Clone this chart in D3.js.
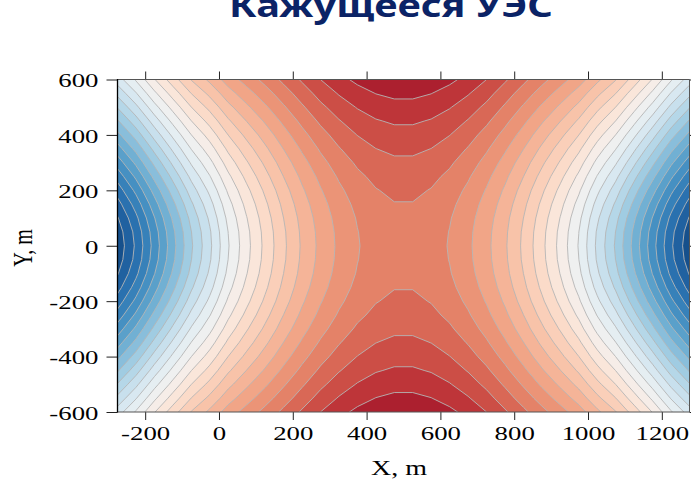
<!DOCTYPE html>
<html><head><meta charset="utf-8">
<script src="https://cdn.jsdelivr.net/npm/d3@7"></script>
<style>body{margin:0;background:#fff}svg{display:block}</style>
</head><body>
<svg id="chart" width="691" height="482"></svg>
<script>
const titleText = "Кажущееся УЭС";
const xLabelText = "X, m";
const yLabelText = "Y, m";
const xTicks = [-200, 0, 200, 400, 600, 800, 1000, 1200];
const yTicks = [-600, -400, -200, 0, 200, 400, 600];
const levels = [1,2,3,4,5,6,7,8,9,10,11,12,13,14,15,16,17,18,19,20,21,22,23,24,25,26];
const gridX = [-275,-225,-175,-125,-75,-25,25,75,125,175,225,275,325,375,425,475,525,575,625,675,725,775,825,875,925,975,1025,1075,1125,1175,1225,1275];
const gridY = [600,550,500,450,400,350,300,250,200,150,100,50,0,-50,-100,-150,-200,-250,-300,-350,-400,-450,-500,-550,-600];
const values = [
[11.5,13.12,14.94,16.54,18.06,19.23,20.47,21.42,22.32,23.24,24.14,25,25.7,26.23,26.62,26.83,26.83,26.62,26.23,25.7,25,24.14,23.24,22.32,21.42,20.47,19.23,18.06,16.54,14.94,13.12,11.5],
[10.28,11.92,13.78,15.44,17.02,18.25,19.58,20.6,21.57,22.54,23.48,24.37,25.08,25.63,26.02,26.23,26.23,26.02,25.63,25.08,24.37,23.48,22.54,21.57,20.6,19.58,18.25,17.02,15.44,13.78,11.92,10.28],
[9.07,10.74,12.63,14.34,15.99,17.29,18.7,19.8,20.83,21.87,22.85,23.76,24.49,25.06,25.46,25.66,25.66,25.46,25.06,24.49,23.76,22.85,21.87,20.83,19.8,18.7,17.29,15.99,14.34,12.63,10.74,9.07],
[7.87,9.57,11.49,13.27,14.98,16.35,17.84,19.02,20.12,21.22,22.25,23.18,23.93,24.52,24.92,25.13,25.13,24.92,24.52,23.93,23.18,22.25,21.22,20.12,19.02,17.84,16.35,14.98,13.27,11.49,9.57,7.87],
[6.7,8.42,10.38,12.22,13.99,15.43,17.01,18.27,19.44,20.6,21.68,22.63,23.41,24.02,24.43,24.64,24.64,24.43,24.02,23.41,22.63,21.68,20.6,19.44,18.27,17.01,15.43,13.99,12.22,10.38,8.42,6.7],
[5.56,7.3,9.3,11.2,13.04,14.55,16.22,17.56,18.8,20.02,21.14,22.13,22.93,23.56,23.99,24.2,24.2,23.99,23.56,22.93,22.13,21.14,20.02,18.8,17.56,16.22,14.55,13.04,11.2,9.3,7.3,5.56],
[4.46,6.22,8.26,10.22,12.13,13.71,15.47,16.89,18.2,19.49,20.65,21.67,22.5,23.15,23.59,23.81,23.81,23.59,23.15,22.5,21.67,20.65,19.49,18.2,16.89,15.47,13.71,12.13,10.22,8.26,6.22,4.46],
[3.41,5.2,7.28,9.3,11.27,12.94,14.78,16.28,17.67,19.01,20.22,21.26,22.12,22.79,23.24,23.47,23.47,23.24,22.79,22.12,21.26,20.22,19.01,17.67,16.28,14.78,12.94,11.27,9.3,7.28,5.2,3.41],
[2.45,4.26,6.37,8.46,10.5,12.24,14.17,15.74,17.19,18.59,19.85,20.92,21.8,22.49,22.95,23.19,23.19,22.95,22.49,21.8,20.92,19.85,18.59,17.19,15.74,14.17,12.24,10.5,8.46,6.37,4.26,2.45],
[1.6,3.43,5.58,7.73,9.83,11.64,13.65,15.3,16.8,18.25,19.55,20.64,21.54,22.25,22.72,22.96,22.96,22.72,22.25,21.54,20.64,19.55,18.25,16.8,15.3,13.65,11.64,9.83,7.73,5.58,3.43,1.6],
[0.91,2.76,4.95,7.15,9.31,11.18,13.26,14.96,16.51,18,19.32,20.44,21.35,22.07,22.56,22.8,22.8,22.56,22.07,21.35,20.44,19.32,18,16.51,14.96,13.26,11.18,9.31,7.15,4.95,2.76,0.91],
[0.46,2.32,4.54,6.77,8.98,10.88,13.01,14.74,16.33,17.84,19.19,20.31,21.24,21.97,22.45,22.7,22.7,22.45,21.97,21.24,20.31,19.19,17.84,16.33,14.74,13.01,10.88,8.98,6.77,4.54,2.32,0.46],
[0.3,2.17,4.39,6.64,8.86,10.78,12.92,14.67,16.27,17.79,19.14,20.27,21.2,21.93,22.42,22.67,22.67,22.42,21.93,21.2,20.27,19.14,17.79,16.27,14.67,12.92,10.78,8.86,6.64,4.39,2.17,0.3],
[0.46,2.32,4.54,6.77,8.98,10.88,13.01,14.74,16.33,17.84,19.19,20.31,21.24,21.97,22.45,22.7,22.7,22.45,21.97,21.24,20.31,19.19,17.84,16.33,14.74,13.01,10.88,8.98,6.77,4.54,2.32,0.46],
[0.91,2.76,4.95,7.15,9.31,11.18,13.26,14.96,16.51,18,19.32,20.44,21.35,22.07,22.56,22.8,22.8,22.56,22.07,21.35,20.44,19.32,18,16.51,14.96,13.26,11.18,9.31,7.15,4.95,2.76,0.91],
[1.6,3.43,5.58,7.73,9.83,11.64,13.65,15.3,16.8,18.25,19.55,20.64,21.54,22.25,22.72,22.96,22.96,22.72,22.25,21.54,20.64,19.55,18.25,16.8,15.3,13.65,11.64,9.83,7.73,5.58,3.43,1.6],
[2.45,4.26,6.37,8.46,10.5,12.24,14.17,15.74,17.19,18.59,19.85,20.92,21.8,22.49,22.95,23.19,23.19,22.95,22.49,21.8,20.92,19.85,18.59,17.19,15.74,14.17,12.24,10.5,8.46,6.37,4.26,2.45],
[3.41,5.2,7.28,9.3,11.27,12.94,14.78,16.28,17.67,19.01,20.22,21.26,22.12,22.79,23.24,23.47,23.47,23.24,22.79,22.12,21.26,20.22,19.01,17.67,16.28,14.78,12.94,11.27,9.3,7.28,5.2,3.41],
[4.46,6.22,8.26,10.22,12.13,13.71,15.47,16.89,18.2,19.49,20.65,21.67,22.5,23.15,23.59,23.81,23.81,23.59,23.15,22.5,21.67,20.65,19.49,18.2,16.89,15.47,13.71,12.13,10.22,8.26,6.22,4.46],
[5.56,7.3,9.3,11.2,13.04,14.55,16.22,17.56,18.8,20.02,21.14,22.13,22.93,23.56,23.99,24.2,24.2,23.99,23.56,22.93,22.13,21.14,20.02,18.8,17.56,16.22,14.55,13.04,11.2,9.3,7.3,5.56],
[6.7,8.42,10.38,12.22,13.99,15.43,17.01,18.27,19.44,20.6,21.68,22.63,23.41,24.02,24.43,24.64,24.64,24.43,24.02,23.41,22.63,21.68,20.6,19.44,18.27,17.01,15.43,13.99,12.22,10.38,8.42,6.7],
[7.87,9.57,11.49,13.27,14.98,16.35,17.84,19.02,20.12,21.22,22.25,23.18,23.93,24.52,24.92,25.13,25.13,24.92,24.52,23.93,23.18,22.25,21.22,20.12,19.02,17.84,16.35,14.98,13.27,11.49,9.57,7.87],
[9.07,10.74,12.63,14.34,15.99,17.29,18.7,19.8,20.83,21.87,22.85,23.76,24.49,25.06,25.46,25.66,25.66,25.46,25.06,24.49,23.76,22.85,21.87,20.83,19.8,18.7,17.29,15.99,14.34,12.63,10.74,9.07],
[10.28,11.92,13.78,15.44,17.02,18.25,19.58,20.6,21.57,22.54,23.48,24.37,25.08,25.63,26.02,26.23,26.23,26.02,25.63,25.08,24.37,23.48,22.54,21.57,20.6,19.58,18.25,17.02,15.44,13.78,11.92,10.28],
[11.5,13.12,14.94,16.54,18.06,19.23,20.47,21.42,22.32,23.24,24.14,25,25.7,26.23,26.62,26.83,26.83,26.62,26.23,25.7,25,24.14,23.24,22.32,21.42,20.47,19.23,18.06,16.54,14.94,13.12,11.5]
];

const svg = d3.select("#chart");
const L = 117.5, R = 689.5, T = 79.5, B = 412;
const x = d3.scaleLinear().domain([-275, 1275]).range([L, R]);
const y = d3.scaleLinear().domain([-600, 600]).range([B, T]);
const colorT = d3.scaleLinear().domain([0, 13, 16, 22, 26]).range([0.94, 0.51, 0.41, 0.25, 0.1]);
const bandColor = k => d3.interpolateRdBu(colorT(k));

svg.append("rect").attr("width", 691).attr("height", 482).attr("fill", "#fff");
svg.append("defs").append("clipPath").attr("id", "clip")
  .append("rect").attr("x", L).attr("y", T).attr("width", R - L).attr("height", B - T);

const nx = gridX.length, ny = gridY.length;
const dxs = gridX[1] - gridX[0], dys = gridY[1] - gridY[0];
const contours = d3.contours().size([nx, ny]).thresholds(levels)(values.flat());
const proj = d3.geoTransform({
  point: function(cx, cy) {
    this.stream.point(x(gridX[0] + (cx - 0.5) * dxs), y(gridY[0] + (cy - 0.5) * dys));
  }
});
const path = d3.geoPath(proj);

const plot = svg.append("g").attr("clip-path", "url(#clip)");
plot.append("rect").attr("x", L).attr("y", T).attr("width", R - L).attr("height", B - T)
  .attr("fill", bandColor(0));
plot.selectAll("path.band").data(contours).join("path").attr("class", "band")
  .attr("d", path).attr("fill", d => bandColor(d.value)).attr("stroke", "none");
plot.selectAll("path.line").data(contours).join("path").attr("class", "line")
  .attr("d", path).attr("fill", "none").attr("stroke", "#b5b5b5").attr("stroke-width", 0.9);

const SX = 1.45;
const fmt = d => String(d);
const axB = svg.append("g").attr("transform", `translate(0,${B})`)
  .call(d3.axisBottom(x).tickValues(xTicks).tickSize(8).tickPadding(7).tickFormat(fmt));
const axL = svg.append("g").attr("transform", `translate(${L},0)`)
  .call(d3.axisLeft(y).tickValues(yTicks).tickSize(11).tickPadding(8).tickFormat(fmt));
const axT = svg.append("g").attr("transform", `translate(0,${T})`)
  .call(d3.axisTop(x).tickValues(xTicks).tickSize(8).tickFormat(""));
const axR = svg.append("g").attr("transform", `translate(${R},0)`)
  .call(d3.axisRight(y).tickValues(yTicks).tickSize(11).tickFormat(""));
[axB, axL, axT, axR].forEach(g => {
  g.select(".domain").remove();
  g.selectAll("line").attr("stroke", "#222").attr("stroke-width", 1);
  g.selectAll("text").attr("fill", "#000").attr("font-family", "'Liberation Serif', serif")
    .attr("font-size", 18.5);
});
axB.selectAll("text").attr("transform", `scale(${SX},1)`);
axL.selectAll("text").attr("x", -19 / SX).attr("dy", "0.4em").attr("transform", `scale(${SX},1)`);

// spines
svg.append("line").attr("x1", L).attr("x2", R).attr("y1", T).attr("y2", T).attr("stroke", "#555").attr("stroke-width", 1);
svg.append("line").attr("x1", L).attr("x2", R).attr("y1", B).attr("y2", B).attr("stroke", "#555").attr("stroke-width", 1);
svg.append("line").attr("x1", R).attr("x2", R).attr("y1", T).attr("y2", B).attr("stroke", "#555").attr("stroke-width", 1);
svg.append("line").attr("x1", L).attr("x2", L).attr("y1", T - 0.5).attr("y2", B + 0.5).attr("stroke", "#000").attr("stroke-width", 1.3);

svg.append("text").attr("transform", `translate(399,475) scale(1.4,1)`)
  .attr("text-anchor", "middle").attr("font-family", "'Liberation Serif', serif")
  .attr("font-size", 20).attr("fill", "#000").text(xLabelText);
svg.append("text").attr("transform", `translate(32,248) scale(1.4,1) rotate(-90)`)
  .attr("text-anchor", "middle").attr("font-family", "'Liberation Serif', serif")
  .attr("font-size", 20).attr("fill", "#000").text(yLabelText);

svg.append("text").attr("x", 391).attr("y", 17).attr("text-anchor", "middle")
  .attr("font-family", "'Noto Sans', 'Open Sans', sans-serif").attr("font-weight", 700)
  .attr("font-size", 32).attr("fill", "#0b2366")
  .attr("textLength", 324).attr("lengthAdjust", "spacingAndGlyphs")
  .text(titleText);
</script>
</body></html>
